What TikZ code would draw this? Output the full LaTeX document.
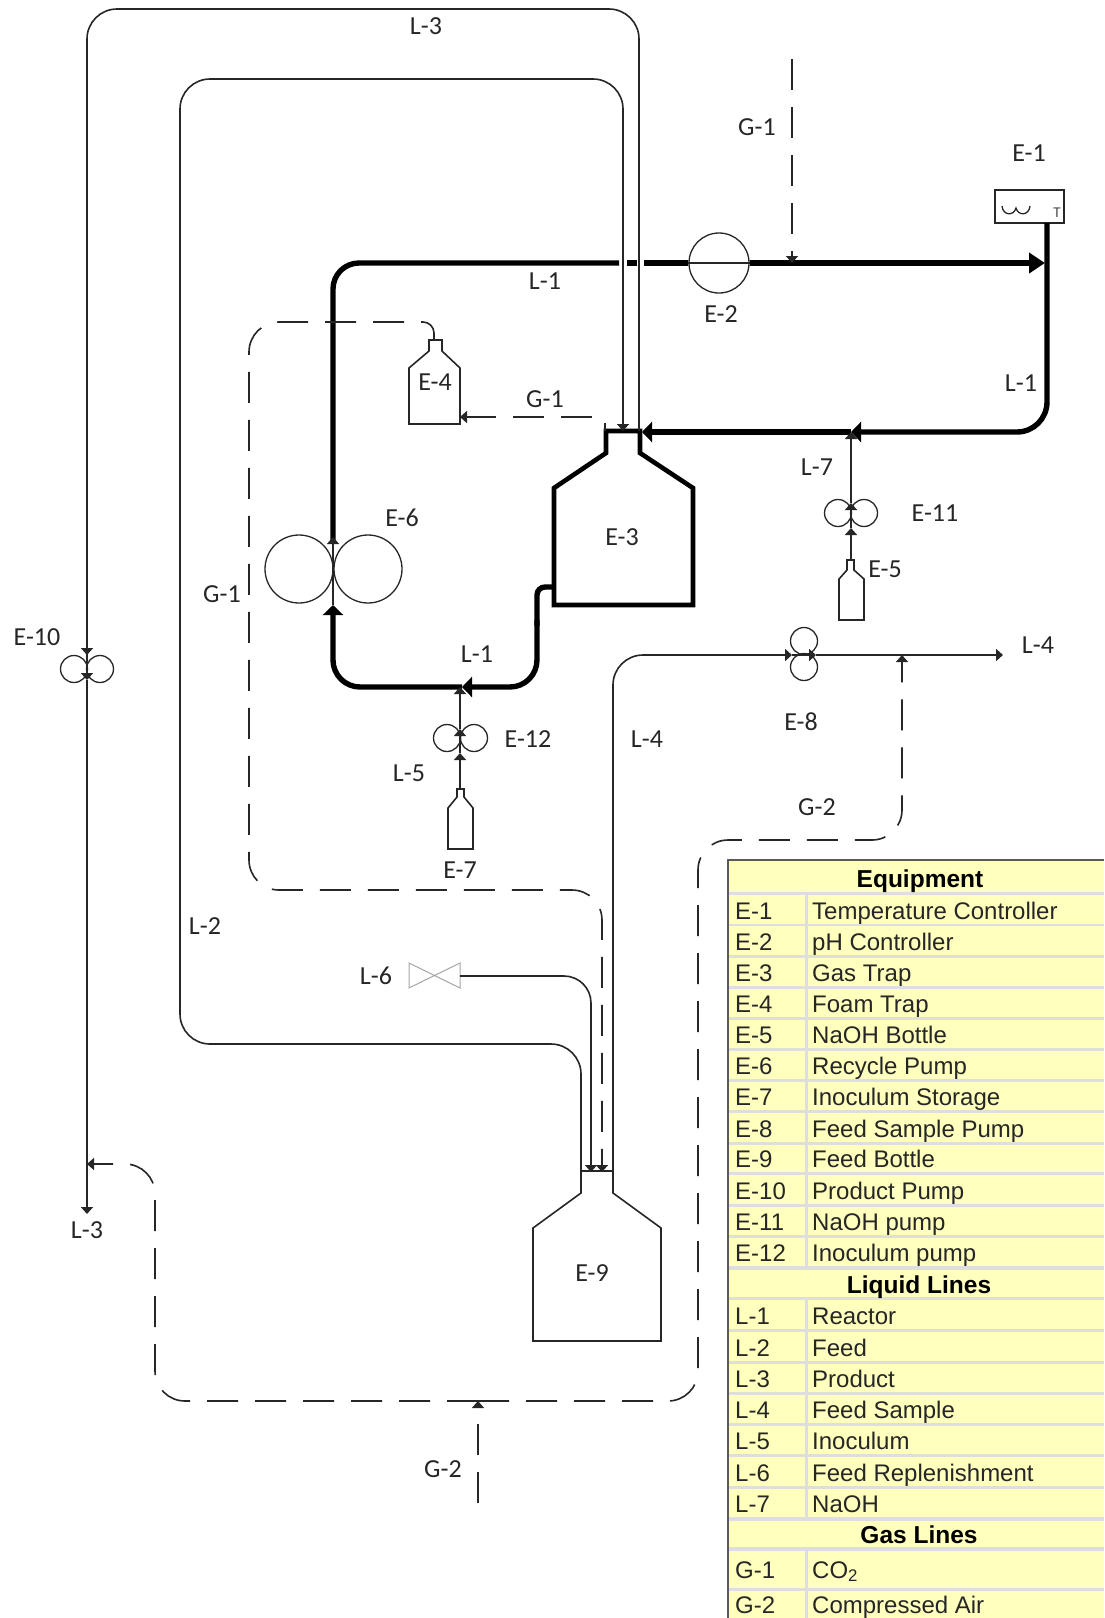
\documentclass[tikz,border=0pt]{standalone}
\usepackage{fontspec}
\setmainfont{Carlito}
\newfontfamily\tablefont{Liberation Sans}
\usepackage{tikz}
\usetikzlibrary{arrows.meta}
\definecolor{Tablefill}{RGB}{255,255,190}
\definecolor{Tablegrid}{RGB}{222,222,222}
\definecolor{Tableedge}{RGB}{90,90,90}

\begin{document}
\begin{tikzpicture}[
  x=1pt, y=-1pt,
  lbl/.style={font=\fontsize{26}{30}\selectfont, text=black!85, inner sep=0pt},
  cellid/.style={font=\tablefont\fontsize{24}{28}\selectfont, text=black!85, anchor=base west, inner sep=0pt},
  cellhead/.style={font=\tablefont\bfseries\fontsize{24.5}{28}\selectfont, anchor=base, inner sep=0pt},
  pumphead/.style={circle, draw=black!85, line width=1.3pt, minimum size=#1, inner sep=0pt},
  vessel/.style={draw=black!85, line width=1.6pt, line join=miter},
  reactor/.style={draw=black, line width=4.6pt, line join=miter},
  thinln/.style={draw=black!85, line width=1.6pt},
  thickln/.style={draw=black, line width=5.4pt},
  gasln/.style={draw=black!85, line width=1.6pt, dash pattern=on 31pt off 17pt},
  arr/.style={-{Triangle[length=7pt, width=12pt]}},
  bigarr/.style={-{Triangle[length=#1, width=20pt]}},
  bigarr/.default=10pt
]
\useasboundingbox (0,0) rectangle (1104,1618);

%% ── Junctions ─────────────────────────────────────────────────────────────
\coordinate (e1out)   at (1047,223);
\coordinate (e1in)    at (1045,263);
\coordinate (e3in)    at (642,432);
\coordinate (e3feed)  at (623,431);
\coordinate (e3prod)  at (639,431);
\coordinate (e3gas)   at (605,431);
\coordinate (e3out)   at (553,587);
\coordinate (naoh)    at (851,432);
\coordinate (inoc)    at (462,687);
\coordinate (e4top)   at (434,340);
\coordinate (e4bend)  at (421,322);
\coordinate (e4dash)  at (404,322);
\coordinate (e5top)   at (851,560);
\coordinate (e7top)   at (460,789);
\coordinate (e9prod)  at (613,1171);
\coordinate (e9feed)  at (581,1171);
\coordinate (e9repl)  at (591,1172);
\coordinate (e9air)   at (602,1172);
\coordinate (gapa)    at (619,263);
\coordinate (gapb)    at (627,263);
\coordinate (gapc)    at (637,263);
\coordinate (gapd)    at (644,263);
\coordinate (airin)   at (478,1401);
\coordinate (airend)  at (478,1503);
\coordinate (co2in)   at (792,263);
\coordinate (co2end)  at (792,59);
\coordinate (l3end)   at (87,1214);
\coordinate (l3air)   at (87,1164);
\coordinate (l4air)   at (902,655);
\coordinate (l4end)   at (1003,655);

%% ── Equipment ─────────────────────────────────────────────────────────────
\node[draw=black!85, line width=1.3pt, minimum width=69pt, minimum height=33pt, inner sep=0pt] (tctrl) at (1029.5,206.5) {};
\draw[thinln, line width=1.3pt] (1002,206) .. controls (1003,216) and (1014,216) .. (1016,208) .. controls (1018,216) and (1029,216) .. (1030,206);
\node[font=\fontsize{15}{17}\selectfont, text=black!70, inner sep=0pt] (tmark) at (1057,213) {T};
\node[pumphead=60pt] (phc) at (719,263) {};

\draw[reactor] (554,605) -- (554,488) -- (606,453) -- (606,431) -- (640,431) -- (640,453) -- (693,488) -- (693,605) -- cycle;
\draw[vessel] (409,424) -- (409,368) -- (429,351) -- (429,340) -- (442,340) -- (442,351) -- (460,368) -- (460,424) -- cycle;
\draw[vessel] (839,620) -- (839,579) -- (847,570) -- (847,560) -- (854,560) -- (854,570) -- (864,579) -- (864,620) -- cycle;
\draw[vessel] (448,849) -- (448,808) -- (457,797) -- (457,789) -- (464,789) -- (464,797) -- (473,808) -- (473,849) -- cycle;
\draw[vessel] (533,1341) -- (533,1228) -- (581,1193) -- (581,1171) -- (613,1171) -- (613,1193) -- (661,1228) -- (661,1341) -- cycle;

\node[pumphead=68pt] (recycleL) at (299,569) {};
\node[pumphead=68pt] (recycleR) at (368,569) {};
\node[pumphead=27pt] (naohL)    at (838,513) {};
\node[pumphead=27pt] (naohR)    at (864,513) {};
\node[pumphead=27pt] (inocL)    at (447,738) {};
\node[pumphead=27pt] (inocR)    at (474,738) {};
\node[pumphead=27pt] (prodL)    at (74,669) {};
\node[pumphead=27pt] (prodR)    at (100,669) {};
\node[pumphead=27pt] (sampT)    at (804,641) {};
\node[pumphead=27pt] (sampB)    at (804,667) {};

\draw[draw=gray!70, line width=1pt] (409,963) -- (460,988) -- (460,963) -- (409,988) -- cycle;
\coordinate (valve) at (460,976);

%% ── Reactor loop L-1 ──────────────────────────────────────────────────────
\draw[thickln, -{Triangle[length=16pt, width=20pt]}] (phc.east) -- (e1in);
\draw[thickln, rounded corners=30pt, bigarr] (e1out) |- (naoh);
\draw[thickln, bigarr] (naoh) -- (e3in);
\draw[thickln, bigarr, rounded corners=27pt] (537,620) -- (537,687) -- (inoc);
\draw[thickln, line cap=round, rounded corners=8pt] (e3out) -- (537,587) -- (537,625);
\draw[thickln, bigarr, rounded corners=27pt] (inoc) -- (333,687) -- (333,605);
\draw[thickln, rounded corners=26pt] (333,540) |- (gapa);
\draw[thickln] (gapb) -- (gapc);
\draw[thickln] (gapd) -- (phc.west);
\draw[thinln, line width=1.3pt] (phc.west) -- (phc.east);
\draw[thinln, arr] (333,605) -- (333,537);

%% ── Liquid lines ──────────────────────────────────────────────────────────
\draw[thinln, arr, rounded corners=30pt] (e9feed) -- (581,1044) -- (180,1044) -- (180,79) -- (623,79) -- (e3feed);
\draw[thinln, rounded corners=30pt] (e3prod) -- (639,9) -- (87,9) -- (87,655);
\draw[thinln, arr] (87,640) -- (87,655);
\draw[thinln, arr] (87,655) -- (87,680);
\draw[thinln, arr] (87,680) -- (l3end);
\draw[thinln, arr, rounded corners=30pt] (e9prod) -- (613,655) -- (792,655);
\draw[thinln, arr] (792,655) -- (816,655);
\draw[thinln, arr] (816,655) -- (l4end);
\draw[thinln, arr] (e7top) -- (460,753);
\draw[thinln, arr] (460,753) -- (460,729);
\draw[thinln, arr] (460,729) -- (460,687);
\draw[thinln, arr] (e5top) -- (851,528);
\draw[thinln, arr] (851,528) -- (851,503);
\draw[thinln, arr] (851,503) -- (naoh);
\draw[thinln, arr, rounded corners=27pt] (valve) -- (591,976) -- (e9repl);

%% ── Gas lines ─────────────────────────────────────────────────────────────
\draw[gasln, arr] (co2end) -- (co2in);
\draw[gasln, arr, dash phase=23pt, rounded corners=4pt] (e3gas) -- (605,417) -- (460,417);
\draw[thinln, rounded corners=11pt] (e4top) -- (434,322) -- (e4bend);
\draw[gasln, arr, rounded corners=30pt] (e4dash) -- (249,322) -- (249,890) -- (602,890) -- (e9air);
\draw[gasln, arr] (airend) -- (airin);
\draw[gasln, arr, rounded corners=30pt] (airin) -- (155,1401) -- (155,1164) -- (l3air);
\draw[gasln, arr, rounded corners=30pt] (airin) -- (698,1401) -- (698,840) -- (902,840) -- (l4air);

%% ── Labels ────────────────────────────────────────────────────────────────
\foreach \nm/\tx/\xx/\yy in {
  a/E-1/1029/153, b/E-2/721/314, c/E-3/622/537, d/E-4/435/382, e/E-5/885/569,
  f/E-6/402/518, g/E-7/460/870, h/E-8/801/722, i/E-9/592/1273, j/E-10/37/637,
  k/E-11/935/513, l/E-12/528/739, m/L-1/1021/383, n/L-1/545/281, o/L-1/477/654,
  p/L-2/205/926, q/L-3/426/26, r/L-3/87/1230, s/L-4/1038/645, t/L-4/647/739,
  u/L-5/409/773, v/L-6/376/976, w/L-7/817/467, x/G-1/757/127, y/G-1/545/399,
  z/G-1/222/594, aa/G-2/817/807, ab/G-2/443/1469}
  \node[lbl] (lbl\nm) at (\xx,\yy) {\tx};

%% ── Table ─────────────────────────────────────────────────────────────────
\fill[Tablegrid] (728,860) rectangle (1104,1618);
\foreach \ya/\yb in {861/892, 1270/1297, 1521/1547}
  \fill[Tablefill] (729,\ya) rectangle (1104,\yb);
\foreach \ya/\yb/\id/\what in {
  895/924/E-1/Temperature Controller, 926/955/E-2/pH Controller, 958/986/E-3/Gas Trap,
  989/1017/E-4/Foam Trap, 1020/1048/E-5/NaOH Bottle, 1051/1079/E-6/Recycle Pump,
  1082/1110/E-7/Inoculum Storage, 1113/1142/E-8/Feed Sample Pump, 1145/1172/E-9/Feed Bottle,
  1175/1204/E-10/Product Pump, 1207/1235/E-11/NaOH pump, 1238/1266/E-12/Inoculum pump,
  1300/1329/L-1/Reactor, 1332/1361/L-2/Feed, 1364/1392/L-3/Product,
  1395/1423/L-4/Feed Sample, 1426/1454/L-5/Inoculum, 1457/1486/L-6/Feed Replenishment,
  1489/1517/L-7/NaOH}
{
  \fill[Tablefill] (729,\ya) rectangle (805,\yb);
  \fill[Tablefill] (808,\ya) rectangle (1104,\yb);
  \node[cellid] (id\id) at (735,\yb-5) {\id};
  \node[cellid] (what\id) at (812,\yb-5) {\what};
}
\fill[Tablefill] (729,1551) rectangle (805,1588);
\fill[Tablefill] (808,1551) rectangle (1104,1588);
\fill[Tablefill] (729,1591) rectangle (805,1618);
\fill[Tablefill] (808,1591) rectangle (1104,1618);
\draw[Tableedge, line width=2pt] (728,1618) -- (728,860) -- (1104,860);
\node[cellhead] (headE) at (920,887) {Equipment};
\node[cellhead] (headL) at (919,1293) {Liquid Lines};
\node[cellhead] (headG) at (919,1543) {Gas Lines};
\node[cellid] (idG1) at (735,1578) {G-1};
\node[cellid] (whatG1) at (812,1578) {CO\textsubscript{2}};
\node[cellid] (idG2) at (735,1613) {G-2};
\node[cellid] (whatG2) at (812,1613) {Compressed Air};
\end{tikzpicture}
\end{document}
